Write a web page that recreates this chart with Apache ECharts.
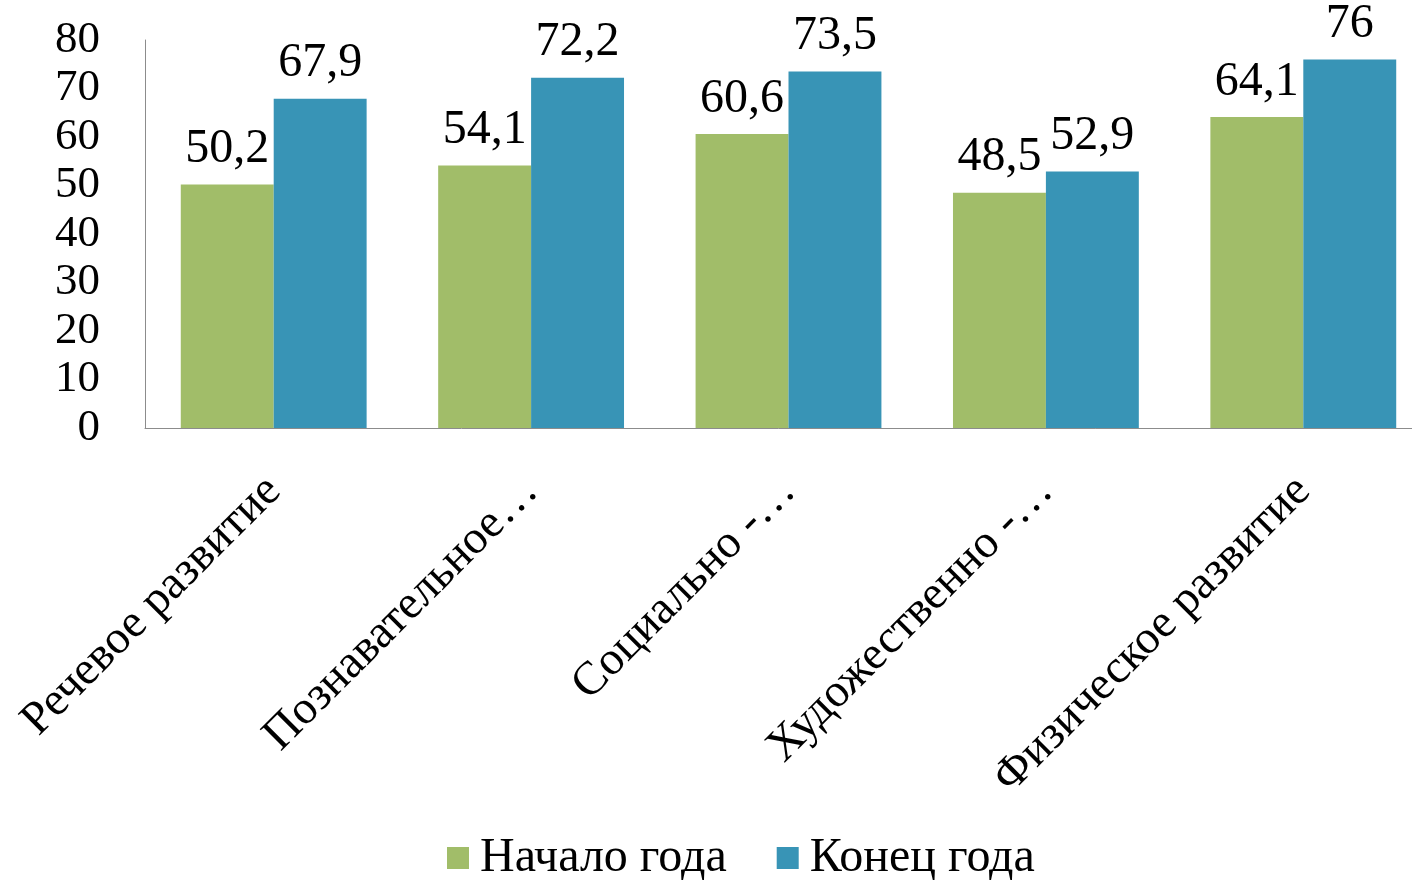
<!DOCTYPE html>
<html>
<head>
<meta charset="utf-8">
<script src="https://cdn.jsdelivr.net/npm/echarts@6/dist/echarts.min.js"></script>
<style>html,body{margin:0;padding:0;background:#fff}#c{width:1412px;height:880px}</style>
</head>
<body>
<div id="c"></div>
<script>
const categories = ['Речевое развитие', 'Познавательное…', 'Социально -…', 'Художественно -…', 'Физическое развитие'];
const seriesNames = ['Начало года', 'Конец года'];
const startValues = [50.2, 54.1, 60.6, 48.5, 64.1];
const endValues = [67.9, 72.2, 73.5, 52.9, 76];
const yTicks = {min: 0, max: 80, interval: 10};

const font = '"Liberation Serif", "Times New Roman", serif';
const chart = echarts.init(document.getElementById('c'), null, {renderer: 'canvas'});
const labelStyle = {
  show: true, position: 'top', distance: 11,
  fontFamily: font, fontSize: 48, color: '#000',
  formatter: p => String(p.value).replace('.', ',')
};
chart.setOption({
  animation: false,
  textStyle: {fontFamily: font},
  grid: {left: 145, right: -20, top: 40, bottom: 452, outerBoundsMode: 'none', containLabel: false},
  legend: {
    top: 829, left: 442, itemWidth: 22, itemHeight: 22, itemGap: 50,
    icon: 'rect',
    textStyle: {fontFamily: font, fontSize: 48, color: '#000', padding: [0, 0, 0, 6]},
    data: seriesNames
  },
  xAxis: {
    type: 'category', data: categories,
    axisLine: {lineStyle: {color: '#8c8c8c', width: 1}},
    axisTick: {show: false},
    axisLabel: {rotate: 45, interval: 0, margin: 56, fontFamily: font, fontSize: 47, color: '#000'}
  },
  yAxis: {
    type: 'value', min: yTicks.min, max: yTicks.max, interval: yTicks.interval,
    axisLine: {show: true, lineStyle: {color: '#8c8c8c', width: 1}},
    axisTick: {show: false},
    splitLine: {show: false},
    axisLabel: {margin: 45, fontFamily: font, fontSize: 45, color: '#000'}
  },
  series: [
    {name: seriesNames[0], type: 'bar', data: startValues, barGap: '0%', barCategoryGap: '27.8%',
     itemStyle: {color: '#A1BD69'}, label: labelStyle},
    {name: seriesNames[1], type: 'bar', data: endValues, barGap: '0%', barCategoryGap: '27.8%',
     itemStyle: {color: '#3894B6'}, label: labelStyle}
  ]
});
</script>
</body>
</html>
